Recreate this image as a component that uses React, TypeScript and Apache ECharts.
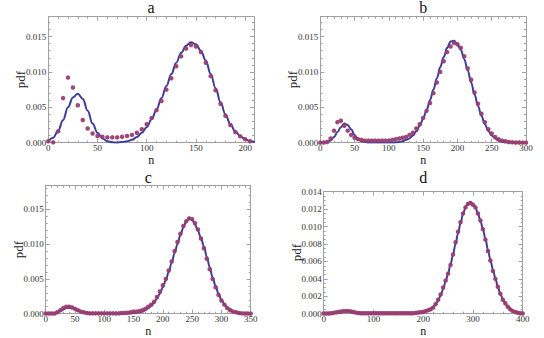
import React, { useEffect, useRef } from "react";
import * as echarts from "echarts";

// ---------- data (step 5 in n) ----------
const STEP = 5;
const panelTitles = ["a", "b", "c", "d"];
const xMaxes = [209, 300, 350, 400];
const xIntervals = [50, 50, 50, 100];
const yMaxes = [0.0178, 0.0178, 0.0184, 0.014];
const yIntervals = [0.005, 0.005, 0.005, 0.002];

const aDots = [0.0002, 0.00005, 0.0016, 0.0063, 0.0092, 0.0078, 0.0053, 0.0032, 0.002, 0.0013, 0.00095, 0.00085, 0.00075, 0.00075, 0.00075, 0.00085, 0.00095, 0.0011, 0.0014, 0.0019, 0.0026, 0.0035, 0.0046, 0.0059, 0.0075, 0.0091, 0.0108, 0.0122, 0.0133, 0.0138, 0.0136, 0.0128, 0.0113, 0.0094, 0.0074, 0.0055, 0.0038, 0.0025, 0.0015, 0.0009, 0.0005, 0.0002];
const aLine = [0.0002, 0.0007, 0.0017, 0.0032, 0.005, 0.0064, 0.0069, 0.0062, 0.0045, 0.0027, 0.0014, 0.0006, 0.0002, 0.00005, 0.00003, 0.0001, 0.0002, 0.0004, 0.0008, 0.0014, 0.0022, 0.0033, 0.0047, 0.0063, 0.008, 0.0097, 0.0113, 0.0127, 0.0137, 0.0142, 0.0139, 0.013, 0.0116, 0.0097, 0.0077, 0.0057, 0.004, 0.0026, 0.0016, 0.0009, 0.0005, 0.0002, 0.0001];

const bDots = [0.00001, 0.00003, 0.0001, 0.0006, 0.0017, 0.0029, 0.0031, 0.0024, 0.0017, 0.0011, 0.0007, 0.0005, 0.0004, 0.0003, 0.0003, 0.0003, 0.0003, 0.0003, 0.0003, 0.0003, 0.0003, 0.0004, 0.0005, 0.0006, 0.0007, 0.0008, 0.0011, 0.0014, 0.002, 0.0026, 0.0035, 0.0045, 0.0056, 0.007, 0.0085, 0.01, 0.0115, 0.0128, 0.0136, 0.0141, 0.0139, 0.0134, 0.0122, 0.0105, 0.0089, 0.0071, 0.0055, 0.0041, 0.0029, 0.0019, 0.0013, 0.0008, 0.0005, 0.0003, 0.0002, 0.0001, 0.00005, 0.00003, 0.00002, 0.00001, 0.00001];
const bLine = [0, 0.00002, 0.0001, 0.0003, 0.0008, 0.0015, 0.0022, 0.0027, 0.0025, 0.0019, 0.0011, 0.0005, 0.0002, 0.0001, 0.00004, 0.00002, 0.00002, 0.00002, 0.00002, 0.00002, 0.00002, 0.00002, 0.00005, 0.0001, 0.0002, 0.0004, 0.0006, 0.001, 0.0016, 0.0024, 0.0034, 0.0046, 0.006, 0.0075, 0.0091, 0.0107, 0.0121, 0.0134, 0.0143, 0.0144, 0.0139, 0.0131, 0.0118, 0.0102, 0.0085, 0.0068, 0.0052, 0.0038, 0.0026, 0.0017, 0.001, 0.0006, 0.0003, 0.00015, 0.00007, 0.00003, 0, 0, 0, 0, 0];

const cDots = [0.00002, 0.00002, 0.00002, 0.00002, 0.0002, 0.0005, 0.0008, 0.001, 0.001, 0.0009, 0.0007, 0.0005, 0.0003, 0.0002, 0.0001, 0.00005, 0.00005, 0.00005, 0.00005, 0.00005, 0.00005, 0.00005, 0.00005, 0.00005, 0.00005, 0.00005, 0.0001, 0.00012, 0.00015, 0.0002, 0.0003, 0.0003, 0.0004, 0.0005, 0.0007, 0.001, 0.0013, 0.0017, 0.0024, 0.0032, 0.0041, 0.005, 0.0062, 0.0075, 0.009, 0.0103, 0.0115, 0.0126, 0.0133, 0.0137, 0.0136, 0.013, 0.0121, 0.0108, 0.0094, 0.0079, 0.0064, 0.005, 0.0038, 0.0027, 0.0019, 0.0013, 0.0008, 0.0005, 0.0003, 0.0002, 0.0001, 0.00005, 0.00003, 0.00002, 0.00001];
const cLine = [0, 0.00001, 0.00003, 0.0001, 0.0002, 0.0004, 0.0006, 0.0008, 0.0009, 0.0009, 0.0007, 0.0005, 0.0003, 0.0002, 0.0001, 0.00005, 0.00003, 0.00001, 0.00001, 0.00001, 0.00001, 0.00001, 0.00001, 0.00001, 0.00001, 0.00001, 0.00001, 0.00001, 0.00001, 0.00004, 0.00008, 0.00013, 0.0002, 0.0003, 0.0005, 0.0008, 0.0011, 0.0016, 0.0022, 0.0029, 0.0038, 0.0048, 0.006, 0.0073, 0.0087, 0.01, 0.0113, 0.0124, 0.0133, 0.0138, 0.0135, 0.0128, 0.0119, 0.0109, 0.0097, 0.0082, 0.0067, 0.0052, 0.004, 0.0029, 0.002, 0.0014, 0.0009, 0.0006, 0.0003, 0.0002, 0.00013, 0.00007, 0.00004, 0.00002, 0.00001];

const dDots = [0.00002, 0.00002, 0.00003, 0.00005, 0.0001, 0.00015, 0.0002, 0.00025, 0.0003, 0.0003, 0.0003, 0.00025, 0.0002, 0.00012, 0.00008, 0.00005, 0.00005, 0.00005, 0.00005, 0.00005, 0.00005, 0.00005, 0.00005, 0.00005, 0.00005, 0.00005, 0.00005, 0.00005, 0.00005, 0.00005, 0.00005, 0.00005, 0.00005, 0.00005, 0.00005, 0.00005, 0.00005, 0.0001, 0.00013, 0.00017, 0.0002, 0.0003, 0.0004, 0.0005, 0.0007, 0.0011, 0.0016, 0.0022, 0.003, 0.0038, 0.0046, 0.0056, 0.0068, 0.0082, 0.0094, 0.0105, 0.0115, 0.0122, 0.0126, 0.0127, 0.0125, 0.0122, 0.0115, 0.0107, 0.0097, 0.0085, 0.0072, 0.0061, 0.0049, 0.004, 0.0031, 0.0023, 0.0016, 0.0012, 0.0008, 0.0005, 0.0003, 0.0002, 0.0001, 0.00005, 0.00002];
const dLine = [0, 0.00001, 0.00002, 0.00005, 0.0001, 0.00015, 0.0002, 0.00025, 0.0003, 0.0003, 0.0003, 0.00025, 0.0002, 0.00012, 0.00007, 0.00004, 0.00002, 0.00001, 0.00001, 0.00001, 0.00001, 0.00001, 0.00001, 0.00001, 0.00001, 0.00001, 0.00001, 0.00001, 0.00001, 0.00001, 0.00001, 0.00001, 0.00001, 0.00001, 0.00001, 0.00001, 0.00002, 0.00004, 0.00007, 0.00012, 0.0002, 0.0003, 0.0004, 0.0006, 0.0008, 0.0011, 0.0015, 0.0021, 0.0028, 0.0037, 0.0046, 0.0057, 0.0068, 0.008, 0.0092, 0.0104, 0.0114, 0.0122, 0.0127, 0.0128, 0.0126, 0.0122, 0.0115, 0.0107, 0.0097, 0.0086, 0.0074, 0.0062, 0.0051, 0.0041, 0.0031, 0.0023, 0.0017, 0.0012, 0.0008, 0.0005, 0.0003, 0.0002, 0.0001, 0.00005, 0.00002];

const dotSets = [aDots, bDots, cDots, dDots];
const lineSets = [aLine, bLine, cLine, dLine];

// ---------- layout / style ----------
const FONT = "Liberation Serif, Times New Roman, serif";
const FRAME = "#a0a0a0";
const LINE_COLOR = "#3d3d99";
const DOT_COLOR = "#993d71";
const grids = [
  { left: 48.3, top: 16.7, width: 205.7, height: 126 },
  { left: 320.3, top: 16.7, width: 205.7, height: 126 },
  { left: 45.7, top: 185.7, width: 205, height: 128 },
  { left: 323.7, top: 191.7, width: 199, height: 122 },
];
const titleTops = [-1, -1, 169.5, 169.5];

const toPairs = (arr: number[]) => arr.map((v, i) => [i * STEP, v]);

function buildOption() {
  const xAxis: any[] = [];
  const yAxis: any[] = [];
  const series: any[] = [];
  const title: any[] = [];
  grids.forEach((g, i) => {
    const tickStyle = { color: FRAME, width: 1 };
    const xMaxAligned = xMaxes[i] % xIntervals[i] === 0;
    const yMaxAligned = Math.abs(yMaxes[i] / yIntervals[i] - Math.round(yMaxes[i] / yIntervals[i])) < 1e-6;
    const xBase = {
      type: "value",
      gridIndex: i,
      min: 0,
      max: xMaxes[i],
      interval: xIntervals[i],
      splitLine: { show: false },
      axisLine: { show: true, onZero: false, lineStyle: tickStyle },
      axisTick: { show: true, inside: true, length: 4, lineStyle: tickStyle },
      minorTick: { show: true, splitNumber: 5, length: 2, lineStyle: tickStyle },
    };
    xAxis.push({
      ...xBase,
      position: "bottom",
      name: "n",
      nameLocation: "middle",
      nameGap: 11.5,
      nameMoveOverlap: false,
      nameTextStyle: { fontFamily: FONT, fontSize: 12, lineHeight: 12, color: "#222" },
      axisLabel: {
        fontFamily: FONT,
        fontSize: 9,
        lineHeight: 9,
        color: "#333",
        margin: 0.8,
        showMaxLabel: xMaxAligned,
        formatter: (v: number) => String(v),
      },
    });
    xAxis.push({ ...xBase, position: "top", axisLabel: { show: false } });
    const yBase = {
      type: "value",
      gridIndex: i,
      min: 0,
      max: yMaxes[i],
      interval: yIntervals[i],
      splitLine: { show: false },
      axisLine: { show: true, onZero: false, lineStyle: tickStyle },
      axisTick: { show: true, inside: true, length: 4, lineStyle: tickStyle },
      minorTick: { show: true, splitNumber: i === 3 ? 4 : 5, length: 2, lineStyle: tickStyle },
    };
    yAxis.push({
      ...yBase,
      position: "left",
      name: "pdf",
      nameLocation: "middle",
      nameGap: 21,
      nameMoveOverlap: false,
      nameTextStyle: { fontFamily: FONT, fontSize: 13, color: "#222" },
      axisLabel: {
        fontFamily: FONT,
        fontSize: 9,
        lineHeight: 9,
        color: "#333",
        margin: 2,
        showMaxLabel: yMaxAligned,
        formatter: (v: number) => v.toFixed(3),
      },
    });
    yAxis.push({ ...yBase, position: "right", axisLabel: { show: false } });

    title.push({
      text: panelTitles[i],
      left: g.left + g.width / 2,
      top: titleTops[i],
      textAlign: "center",
      textStyle: { fontFamily: FONT, fontSize: 16, fontWeight: "normal", color: "#111" },
      padding: 0,
    });

    series.push({
      type: "line",
      xAxisIndex: i * 2,
      yAxisIndex: i * 2,
      data: toPairs(lineSets[i]),
      smooth: 0.4,
      smoothMonotone: "x",
      showSymbol: false,
      symbol: "none",
      lineStyle: { color: LINE_COLOR, width: 2 },
      z: 2,
      silent: true,
    });
    series.push({
      type: "scatter",
      xAxisIndex: i * 2,
      yAxisIndex: i * 2,
      data: toPairs(dotSets[i]),
      symbol: "circle",
      symbolSize: 4.5,
      itemStyle: { color: DOT_COLOR, opacity: 0.95 },
      z: 3,
      silent: true,
    });
  });

  return {
    animation: false,
    backgroundColor: "#ffffff",
    title,
    grid: grids.map((g) => ({ ...g, containLabel: false, outerBoundsMode: "none" })),
    xAxis,
    yAxis,
    series,
  };
}

export default function App() {
  const ref = useRef<HTMLDivElement>(null);
  useEffect(() => {
    if (!ref.current) return;
    const chart = echarts.init(ref.current, undefined, { renderer: "svg" });
    chart.setOption(buildOption() as any);
    return () => chart.dispose();
  }, []);
  return (
    <div
      ref={ref}
      style={{ position: "absolute", left: 0, top: 0, width: 544, height: 338, background: "#fff" }}
    />
  );
}
